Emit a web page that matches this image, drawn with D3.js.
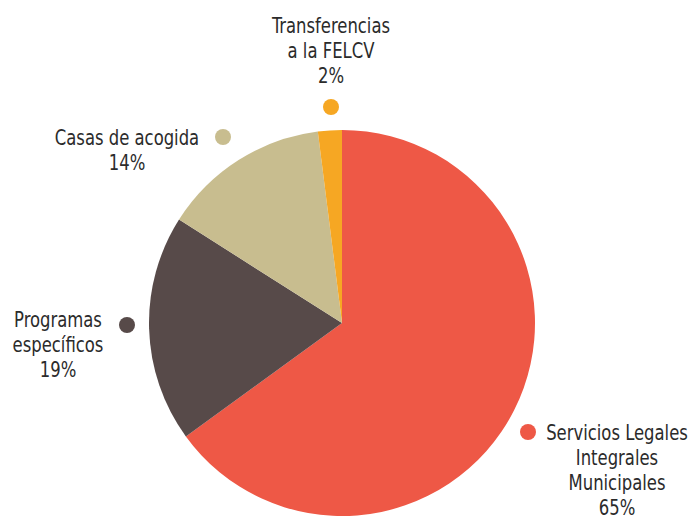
<!DOCTYPE html>
<html>
<head>
<meta charset="utf-8">
<script src="https://cdn.jsdelivr.net/npm/d3@7"></script>
<style>
  body { margin: 0; background: #fff; }
  text { font-family: "Liberation Sans Narrow", "DejaVu Sans Condensed", "Roboto", sans-serif; fill: #2b2b2b; }
</style>
</head>
<body>
<div id="content"></div>
<script>
const categories = ["Servicios Legales Integrales Municipales", "Programas específicos", "Casas de acogida", "Transferencias a la FELCV"];
const values = [65, 19, 14, 2];
const colors = ["#ee5846", "#574a49", "#c8bd8f", "#f6a723"];
// label lines, as printed
const labelLines = [
    ["Servicios Legales", "Integrales", "Municipales", "65%"],
    ["Programas", "específicos", "19%"],
    ["Casas de acogida", "14%"],
    ["Transferencias", "a la FELCV", "2%"]
];

const W = 692, H = 519;
const cx = 342, cy = 323, R = 193;

const svg = d3.select("#content")
    .append("svg")
    .attr("width", W)
    .attr("height", H);

const pie = d3.pie().sort(null).value(d => d)(values);
const arc = d3.arc().innerRadius(0).outerRadius(R);

svg.append("g")
    .attr("transform", `translate(${cx},${cy})`)
    .selectAll("path")
    .data(pie)
    .enter()
        .append("path")
        .attr("d", arc)
        .attr("fill", (d, i) => colors[i]);

// label placement (dot + text block)
const labelPos = [
    {dot: [528, 432], tx: 617, ty: 440},
    {dot: [127, 325], tx: 58, ty: 327},
    {dot: [223, 137], tx: 127, ty: 145},
    {dot: [331, 107], tx: 331, ty: 33}
];
const lh = 25;

labelPos.forEach((p, i) => {
    svg.append("circle")
        .attr("cx", p.dot[0])
        .attr("cy", p.dot[1])
        .attr("r", 8)
        .attr("fill", colors[i]);
    // condense the text horizontally
    const t = svg.append("g")
        .attr("transform", `translate(${p.tx},0) scale(0.87,1)`)
        .append("text")
        .attr("text-anchor", "middle")
        .attr("font-size", 21);
    labelLines[i].forEach((line, j) => {
        t.append("tspan")
            .attr("x", 0)
            .attr("y", p.ty + j * lh)
            .text(line);
    });
});
</script>
</body>
</html>
